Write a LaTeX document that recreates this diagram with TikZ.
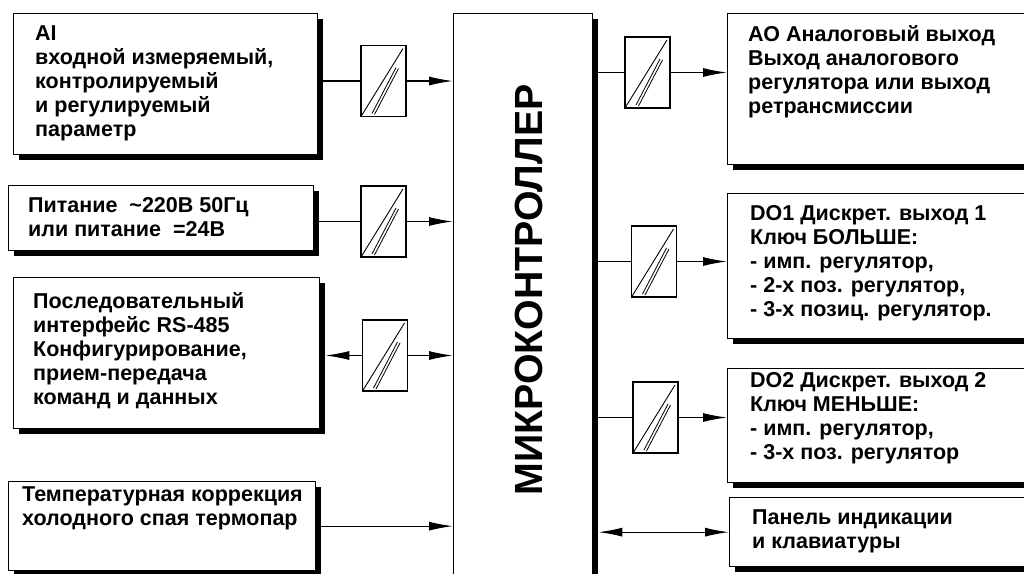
\documentclass[tikz,border=0pt]{standalone}
\usepackage{fontspec}
\setmainfont{Liberation Sans}
\usetikzlibrary{arrows.meta,calc,shadows}
\begin{document}
\begin{tikzpicture}[x=1pt,y=-1pt,
  shbox/.style={draw, fill=white, line width=1.3pt, inner sep=0pt, anchor=north west,
    general shadow={fill=black, shadow xshift=5pt, shadow yshift=-5pt}},
  txt/.style={anchor=north west, inner sep=0pt, align=left,
    font=\fontsize{21.5}{24}\selectfont\bfseries},
  conv/.style={draw, fill=white, line width=1.2pt, minimum width=45pt, minimum height=71pt, inner sep=0pt,
    path picture={
      \draw[line width=0.9pt] (path picture bounding box.south west) -- ([xshift=-3pt,yshift=-3pt]path picture bounding box.north east);
      \draw[line width=0.8pt] ([xshift=11pt,yshift=3pt]path picture bounding box.south west) -- ([xshift=35pt,yshift=49pt]path picture bounding box.south west);
      \draw[line width=0.8pt] ([xshift=13.5pt,yshift=2pt]path picture bounding box.south west) -- ([xshift=37.5pt,yshift=48pt]path picture bounding box.south west);
    }},
  wire/.style={line width=1.3pt},
  arr/.style={wire, -{Latex[length=24pt,width=9pt]}},
  darr/.style={wire, {Latex[length=24pt,width=9pt]}-{Latex[length=24pt,width=9pt]}}
]
\useasboundingbox (0,0) rectangle (1024,573);
\clip (0,0) rectangle (1024,573);
\fill[white] (0,0) rectangle (1024,573);

% left boxes
\node[shbox, minimum width=304pt, minimum height=141pt] (ai) at (13,13) {};
\node[txt] (aiT) at (35,25.5) {AI\\входной измеряемый,\\контролируемый\\и регулируемый\\параметр};

\node[shbox, minimum width=305pt, minimum height=65pt] (pit) at (8,185) {};
\node[txt] (pitT) at (28,197) {Питание\ \ \textasciitilde220В 50Гц\\или питание\ \ =24В};

\node[shbox, minimum width=306pt, minimum height=151pt] (rs) at (13,277) {};
\node[txt] (rsT) at (33,292) {Последовательный\\интерфейс RS-485\\Конфигурирование,\\прием-передача\\команд и данных};

\node[shbox, minimum width=307pt, minimum height=89pt] (temp) at (8,481) {};
\node[txt] (tempT) at (22,486) {Температурная коррекция\\холодного спая термопар};

% microcontroller
\node[shbox, minimum width=139pt, minimum height=600pt] (mc) at (453,13) {};
\node[rotate=90, anchor=base, inner sep=0pt, font=\fontsize{39.3}{39.3}\selectfont\bfseries] (mcT) at (542,290) {МИКРОКОНТРОЛЛЕР};

% right boxes
\node[shbox, minimum width=320pt, minimum height=151pt] (ao) at (727,13) {};
\node[txt] (aoT) at (748,25) {АО Аналоговый выход\\Выход аналогового\\регулятора или выход\\ретрансмиссии};

\node[shbox, minimum width=320pt, minimum height=145pt] (do1) at (727,193) {};
\node[txt] (do1T) at (750,205) {DO1 Дискрет. выход 1\\Ключ БОЛЬШЕ:\\- имп. регулятор,\\- 2-х поз. регулятор,\\- 3-х позиц. регулятор.};

\node[shbox, minimum width=320pt, minimum height=114pt] (do2) at (727,368) {};
\node[txt] (do2T) at (750,372) {DO2 Дискрет. выход 2\\Ключ МЕНЬШЕ:\\- имп. регулятор,\\- 3-х поз. регулятор};

\node[shbox, minimum width=320pt, minimum height=69pt] (pan) at (729,497) {};
\node[txt] (panT) at (752,509.5) {Панель индикации\\и клавиатуры};

% converters
\node[conv] (cai) at (383.5,81) {};
\node[conv] (cpit) at (383.5,221.5) {};
\node[conv] (crs) at (385,355.5) {};
\node[conv] (cao) at (647.5,72.5) {};
\node[conv] (cdo1) at (654,261.5) {};
\node[conv] (cdo2) at (655.5,417.5) {};

% connectors left
\draw[wire] (cai.west -| ai.east) -- (cai.west);
\draw[arr] (cai.east) -- (cai.east -| mc.west);
\draw[wire] (cpit.west -| pit.east) -- (cpit.west);
\draw[arr] (cpit.east) -- (cpit.east -| mc.west);
\draw[arr] (crs.west) -- ($(crs.west -| rs.east)+(5,0)$);
\draw[arr] (crs.east) -- (crs.east -| mc.west);
\draw[arr] ($(temp.east)+(5,0)$) -- (temp.east -| mc.west);

% connectors right
\draw[wire] (cao.west -| mc.east) -- (cao.west);
\draw[arr] (cao.east) -- (cao.east -| ao.west);
\draw[wire] (cdo1.west -| mc.east) -- (cdo1.west);
\draw[arr] (cdo1.east) -- (cdo1.east -| do1.west);
\draw[wire] (cdo2.west -| mc.east) -- (cdo2.west);
\draw[arr] (cdo2.east) -- (cdo2.east -| do2.west);
\draw[darr] ($(pan.west -| mc.east)+(5,0)$) -- (pan.west);
\end{tikzpicture}
\end{document}
